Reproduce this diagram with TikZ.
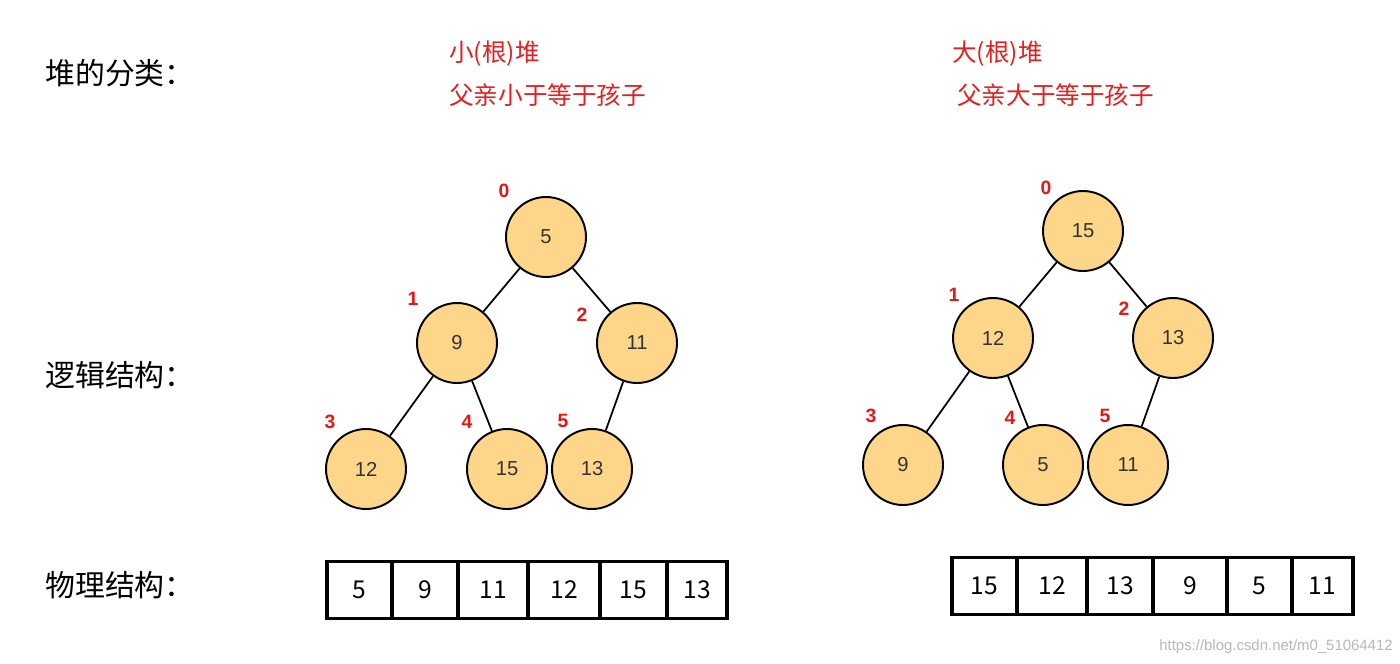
\documentclass[tikz,border=0pt]{standalone}
\usepackage{fontspec}
\setmainfont{Liberation Sans}
\newfontfamily\cjk{Noto Sans CJK SC}
\usepackage{tikz}
\usetikzlibrary{positioning}
\definecolor{heapFill}{RGB}{253,214,138}
\definecolor{idxRed}{RGB}{232,22,22}
\definecolor{capRed}{RGB}{226,32,32}

\begin{document}
\begin{tikzpicture}[x=0.02cm, y=-0.02cm,
  heapnode/.style={circle, draw=black, line width=1.1pt, fill=heapFill,
                   minimum size=1.6cm, inner sep=0pt,
                   font=\fontsize{11.5}{13}\selectfont, text=black!80},
  idx/.style={text=idxRed, inner sep=0pt, font=\fontsize{11}{13}\selectfont\bfseries},
  edge/.style={draw=black, line width=1pt},
  cell/.style={rectangle, draw=black, line width=2.2pt, minimum height=1.14cm,
               inner sep=0pt, outer sep=0pt, font=\cjk\fontsize{14}{17}\selectfont},
  heading/.style={anchor=west, inner sep=0pt, font=\cjk\fontsize{17}{20}\selectfont},
  caption/.style={anchor=west, inner sep=0pt, text=capRed, font=\cjk\fontsize{14}{17}\selectfont}]

  \fill[white] (0,0) rectangle (1400,663);
  \useasboundingbox (0,0) rectangle (1400,663);

  % ---- Headings ----
  \node[heading] (hkind)  at (45,73)  {堆的分类：};
  \node[heading] (hlogic) at (45,375) {逻辑结构：};
  \node[heading] (hphys)  at (45,585) {物理结构：};

  % ---- Captions ----
  \node[caption] (minname) at (449,54)  {小(根)堆};
  \node[caption] (minrule) at (449,95)  {父亲小于等于孩子};
  \node[caption] (maxname) at (952,54)  {大(根)堆};
  \node[caption] (maxrule) at (957,95)  {父亲大于等于孩子};

  % ---- Min heap (tree) ----
  \node[heapnode] (min0) at (546,237) {5};
  \node[heapnode] (min1) at (457,343) {9};
  \node[heapnode] (min2) at (637,343) {11};
  \node[heapnode] (min3) at (366,469) {12};
  \node[heapnode] (min4) at (507,469) {15};
  \node[heapnode] (min5) at (592,469) {13};

  \node[idx] (minidx0) at (504,191) {0};
  \node[idx] (minidx1) at (413,299) {1};
  \node[idx] (minidx2) at (582,315) {2};
  \node[idx] (minidx3) at (330,422) {3};
  \node[idx] (minidx4) at (467,422) {4};
  \node[idx] (minidx5) at (563,421) {5};

  \draw[edge] (min0) -- (min1);
  \draw[edge] (min0) -- (min2);
  \draw[edge] (min1) -- (min3);
  \draw[edge] (min1) -- (min4);
  \draw[edge] (min2) -- (min5);

  % ---- Max heap (tree) ----
  \node[heapnode] (max0) at (1083,231) {15};
  \node[heapnode] (max1) at (993,338)  {12};
  \node[heapnode] (max2) at (1173,338) {13};
  \node[heapnode] (max3) at (903,465)  {9};
  \node[heapnode] (max4) at (1043,465) {5};
  \node[heapnode] (max5) at (1128,465) {11};

  \node[idx] (maxidx0) at (1046,188) {0};
  \node[idx] (maxidx1) at (954,295)  {1};
  \node[idx] (maxidx2) at (1124,309) {2};
  \node[idx] (maxidx3) at (871,416)  {3};
  \node[idx] (maxidx4) at (1010,418) {4};
  \node[idx] (maxidx5) at (1105,416) {5};

  \draw[edge] (max0) -- (max1);
  \draw[edge] (max0) -- (max2);
  \draw[edge] (max1) -- (max3);
  \draw[edge] (max1) -- (max4);
  \draw[edge] (max2) -- (max5);

  % ---- Min heap (array) ----
  \node[cell, minimum width=1.30cm] (minarr0) at (359.5,590) {5};
  \node[cell, minimum width=1.32cm] (minarr1) at (425,590)   {9};
  \node[cell, minimum width=1.40cm] (minarr2) at (493,590)   {11};
  \node[cell, minimum width=1.44cm] (minarr3) at (564,590)   {12};
  \node[cell, minimum width=1.34cm] (minarr4) at (633.5,590) {15};
  \node[cell, minimum width=1.20cm] (minarr5) at (697,590)   {13};

  % ---- Max heap (array) ----
  \node[cell, minimum width=1.30cm] (maxarr0) at (984.5,586)  {15};
  \node[cell, minimum width=1.40cm] (maxarr1) at (1052,586)   {12};
  \node[cell, minimum width=1.32cm] (maxarr2) at (1120,586)   {13};
  \node[cell, minimum width=1.48cm] (maxarr3) at (1190,586)   {9};
  \node[cell, minimum width=1.30cm] (maxarr4) at (1259.5,586) {5};
  \node[cell, minimum width=1.22cm] (maxarr5) at (1322.5,586) {11};

  % ---- Watermark ----
  \node[anchor=east, inner sep=0pt, text=black!28, font=\fontsize{8.5}{10}\selectfont]
    (mark) at (1393,647) {https://blog.csdn.net/m0\_51064412};

\end{tikzpicture}
\end{document}
